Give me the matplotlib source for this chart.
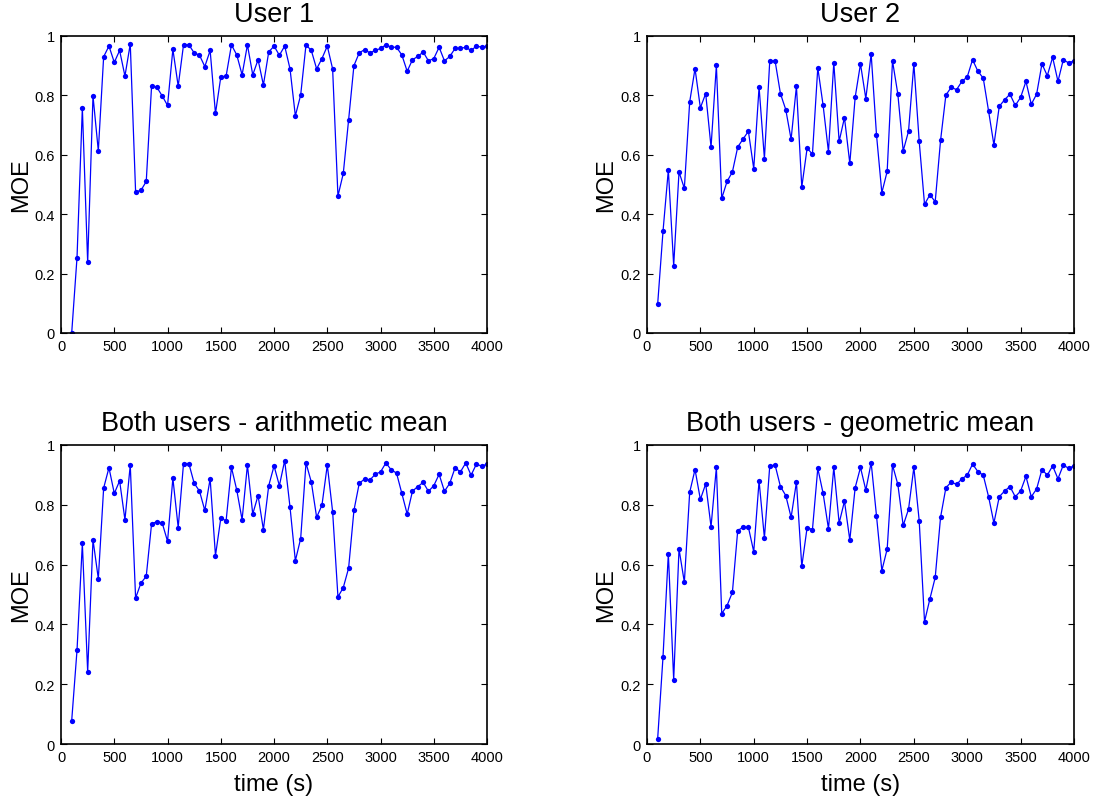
import numpy as np
import matplotlib
matplotlib.use('Agg')
import matplotlib.pyplot as plt
from matplotlib.ticker import FuncFormatter

plt.rcParams['font.family'] = ['Liberation Sans', 'DejaVu Sans']

# sample times (s)
times = list(range(100, 4001, 50))

user1 = [0.000, 0.254, 0.758, 0.238, 0.798, 0.613, 0.930, 0.966, 0.911, 0.951,
         0.865, 0.973, 0.475, 0.480, 0.510, 0.831, 0.827, 0.798, 0.766, 0.955,
         0.831, 0.970, 0.970, 0.943, 0.935, 0.897, 0.951, 0.739, 0.862, 0.865,
         0.970, 0.936, 0.869, 0.970, 0.869, 0.920, 0.835, 0.946, 0.966, 0.935,
         0.966, 0.889, 0.731, 0.801, 0.970, 0.951, 0.889, 0.924, 0.966, 0.889,
         0.461, 0.537, 0.717, 0.900, 0.943, 0.954, 0.943, 0.951, 0.958, 0.970,
         0.962, 0.962, 0.936, 0.881, 0.920, 0.931, 0.946, 0.916, 0.924, 0.962,
         0.916, 0.931, 0.958, 0.958, 0.962, 0.951, 0.966, 0.962, 0.966]

user2 = [0.097, 0.342, 0.549, 0.227, 0.542, 0.487, 0.778, 0.890, 0.758, 0.806,
         0.626, 0.901, 0.453, 0.510, 0.542, 0.626, 0.653, 0.679, 0.553, 0.828,
         0.587, 0.916, 0.916, 0.806, 0.752, 0.652, 0.831, 0.491, 0.622, 0.602,
         0.893, 0.766, 0.610, 0.910, 0.645, 0.725, 0.571, 0.793, 0.906, 0.789,
         0.939, 0.667, 0.472, 0.544, 0.916, 0.804, 0.613, 0.679, 0.906, 0.645,
         0.433, 0.465, 0.442, 0.648, 0.801, 0.827, 0.819, 0.847, 0.862, 0.920,
         0.881, 0.858, 0.747, 0.633, 0.763, 0.785, 0.804, 0.766, 0.793, 0.847,
         0.770, 0.804, 0.906, 0.866, 0.928, 0.847, 0.920, 0.909, 0.916]

arith_mean = [0.078, 0.314, 0.671, 0.242, 0.683, 0.553, 0.856, 0.924, 0.838, 0.880,
              0.750, 0.933, 0.488, 0.538, 0.561, 0.736, 0.744, 0.739, 0.678, 0.889,
              0.724, 0.938, 0.938, 0.872, 0.846, 0.781, 0.887, 0.630, 0.755, 0.747,
              0.925, 0.849, 0.750, 0.933, 0.769, 0.831, 0.717, 0.864, 0.930, 0.864,
              0.948, 0.792, 0.613, 0.687, 0.940, 0.876, 0.758, 0.799, 0.933, 0.777,
              0.492, 0.523, 0.588, 0.781, 0.872, 0.886, 0.883, 0.902, 0.910, 0.940,
              0.917, 0.906, 0.838, 0.769, 0.846, 0.861, 0.875, 0.845, 0.864, 0.902,
              0.845, 0.872, 0.924, 0.910, 0.940, 0.899, 0.936, 0.929, 0.936]

geo_mean = [0.018, 0.291, 0.637, 0.215, 0.652, 0.541, 0.842, 0.918, 0.818, 0.870,
            0.727, 0.925, 0.436, 0.463, 0.507, 0.714, 0.725, 0.725, 0.643, 0.880,
            0.689, 0.930, 0.933, 0.861, 0.831, 0.758, 0.876, 0.594, 0.724, 0.717,
            0.922, 0.838, 0.720, 0.925, 0.739, 0.812, 0.682, 0.857, 0.925, 0.849,
            0.941, 0.763, 0.580, 0.652, 0.933, 0.868, 0.731, 0.785, 0.925, 0.747,
            0.409, 0.485, 0.557, 0.758, 0.857, 0.876, 0.868, 0.887, 0.899, 0.936,
            0.911, 0.899, 0.827, 0.739, 0.827, 0.846, 0.861, 0.827, 0.846, 0.895,
            0.827, 0.853, 0.918, 0.899, 0.930, 0.887, 0.933, 0.922, 0.930]

panels = [
    ("User 1", user1, [0.0558, 0.5841, 0.3894, 0.3699], False),
    ("User 2", user2, [0.5914, 0.5841, 0.3903, 0.3699], False),
    ("Both users - arithmetic mean", arith_mean, [0.0558, 0.0722, 0.3894, 0.3724], True),
    ("Both users - geometric mean", geo_mean, [0.5914, 0.0722, 0.3903, 0.3724], True),
]

def ytick_fmt(v, pos):
    if abs(v) < 1e-9:
        return "0"
    if abs(v - 1) < 1e-9:
        return "1"
    return "%.1f" % v

fig = plt.figure(figsize=(10.94, 8.03), dpi=100)

for title, values, rect, show_xlabel in panels:
    ax = fig.add_axes(rect)
    ax.plot(times, values, '-', color='#0000ff', linewidth=0.9,
            marker='o', markersize=3.8, markeredgewidth=0)
    ax.set_xlim(0, 4000)
    ax.set_ylim(0, 1)
    ax.set_xticks(np.arange(0, 4001, 500))
    ax.set_yticks(np.arange(0, 1.01, 0.2))
    ax.yaxis.set_major_formatter(FuncFormatter(ytick_fmt))
    ax.tick_params(direction='in', top=True, right=True, length=4,
                   width=0.8, labelsize=10.5, pad=4.5)
    for sp in ax.spines.values():
        sp.set_linewidth(1.2)
    ax.set_title(title, fontsize=19.5, pad=11)
    ax.set_ylabel("MOE", fontsize=17, labelpad=2)
    if show_xlabel:
        ax.set_xlabel("time (s)", fontsize=17, labelpad=6)

fig.savefig("out.png", dpi=100)
